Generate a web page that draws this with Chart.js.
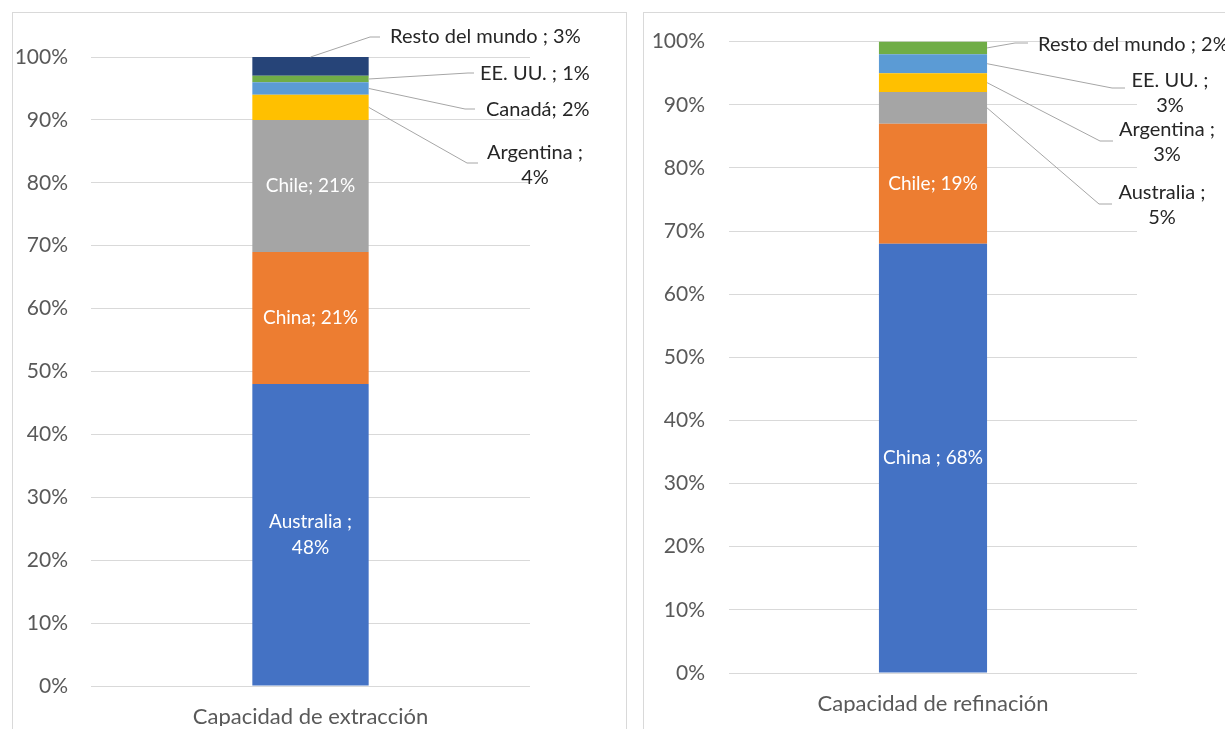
<!DOCTYPE html>
<html>
<head>
<meta charset="utf-8">
<script src="https://cdn.jsdelivr.net/npm/chart.js@4"></script>
<style>
  body { margin: 0; background: #fff; overflow: hidden; }
  .panel { position: absolute; border: 1px solid #d9d9d9; background: #fff; overflow: hidden; }
  #panelIzq { left: 12px; top: 12px; width: 613px; height: 740px; }
  #panelDer { left: 643px; top: 12px; width: 618px; height: 740px; }
  #chartRefinacion { margin-top: -8px; display: block; }
</style>
</head>
<body>
<div class="panel" id="panelIzq"><canvas id="chartExtraccion" width="613" height="740"></canvas></div>
<div class="panel" id="panelDer"><canvas id="chartRefinacion" width="618" height="740"></canvas></div>
<script>
//DATOS
const colores = ["#4472C4", "#ED7D31", "#A5A5A5", "#FFC000", "#5B9BD5", "#70AD47", "#264478"];
const yTicks = [0, 10, 20, 30, 40, 50, 60, 70, 80, 90, 100];

const extraccionCategoria = ["Capacidad de extracción"];
const extraccionPaises = ["Australia", "China", "Chile", "Argentina", "Canadá", "EE. UU.", "Resto del mundo"];
const extraccionValores = [48, 21, 21, 4, 2, 1, 3];
const extraccionEtiquetas = [["Australia ;", "48%"], ["China; 21%"], ["Chile; 21%"], ["Argentina ;", "4%"], ["Canadá; 2%"], ["EE. UU. ; 1%"], ["Resto del mundo ; 3%"]];

const refinacionCategoria = ["Capacidad de refinación"];
const refinacionPaises = ["China", "Chile", "Australia", "Argentina", "EE. UU.", "Resto del mundo"];
const refinacionValores = [68, 19, 5, 3, 3, 2];
const refinacionEtiquetas = [["China ; 68%"], ["Chile; 19%"], ["Australia ;", "5%"], ["Argentina ;", "3%"], ["EE. UU. ;", "3%"], ["Resto del mundo ; 2%"]];

const FUENTE = "Lato, 'Open Sans', sans-serif";

//PLUGIN DE ETIQUETAS
const etiquetasPlugin = {
  id: "etiquetas",
  afterDatasetsDraw(chart, args, opts) {
    const ctx = chart.ctx;
    ctx.save();
    chart.data.datasets.forEach((ds, i) => {
      const el = chart.getDatasetMeta(i).data[0];
      const lineas = ds.etiqueta;
      const cfg = (opts.fuera || {})[i];
      if (!cfg) {
        // dentro de la barra
        ctx.fillStyle = "#ffffff";
        ctx.font = "19px " + FUENTE;
        ctx.textAlign = "center";
        ctx.textBaseline = "middle";
        const cy = (el.y + el.base) / 2;
        const lh = 26;
        lineas.forEach((t, k) => {
          ctx.fillText(t, el.x, cy + (k - (lineas.length - 1) / 2) * lh);
        });
        return;
      }
      let ax, ay;
      if (cfg.anchor === "top") { ax = el.x; ay = el.y; }
      else { ax = el.x + el.width / 2; ay = (el.y + el.base) / 2; }
      ctx.strokeStyle = "#a6a6a6";
      ctx.lineWidth = 1;
      ctx.beginPath();
      ctx.moveTo(ax, ay);
      ctx.lineTo(cfg.codo[0], cfg.codo[1]);
      ctx.lineTo(cfg.codo[0] + cfg.largo, cfg.codo[1]);
      ctx.stroke();
      ctx.fillStyle = "#262626";
      ctx.font = "20px " + FUENTE;
      ctx.textAlign = cfg.align;
      ctx.textBaseline = "middle";
      lineas.forEach((t, k) => {
        ctx.fillText(t, cfg.tx, cfg.ty + k * 25);
      });
    });
    ctx.restore();
  }
};

function crearGrafico(id, categoria, paises, valores, etiquetas, medidas, fuera) {
  const datasets = paises.map((p, i) => ({
    label: p,
    data: [valores[i]],
    etiqueta: etiquetas[i],
    backgroundColor: colores[i],
    borderWidth: 0,
    categoryPercentage: 1,
    barPercentage: 0.265,
  }));
  const config = {
    type: "bar",
    data: { labels: categoria, datasets: datasets },
    plugins: [etiquetasPlugin],
    options: {
      responsive: false,
      animation: false,
      devicePixelRatio: 1,
      layout: { padding: medidas.padding },
      plugins: {
        legend: { display: false },
        tooltip: { enabled: false },
        title: { display: false },
        etiquetas: { fuera: fuera },
      },
      scales: {
        x: {
          stacked: true,
          grid: { display: false },
          border: { display: false },
          ticks: { color: "#595959", font: { family: FUENTE, size: 22 }, padding: 10 },
          afterFit: (s) => { s.height = 40; },
        },
        y: {
          stacked: true,
          min: 0,
          max: 100,
          afterBuildTicks: (s) => { s.ticks = yTicks.map((v) => ({ value: v })); },
          grid: { color: "#d9d9d9", lineWidth: 1, drawTicks: false },
          border: { display: false },
          ticks: {
            color: "#595959",
            font: { family: FUENTE, size: 21 },
            padding: medidas.tickPad,
            callback: (v) => v + "%",
          },
          afterFit: (s) => { s.width = medidas.ejeY; },
        },
      },
    },
  };
  return new Chart(document.getElementById(id), config);
}

crearGrafico("chartExtraccion", extraccionCategoria, extraccionPaises, extraccionValores, extraccionEtiquetas,
  { padding: { left: 0, right: 96, top: 44, bottom: 27 }, ejeY: 78, tickPad: 23 },
  {
    3: { codo: [454, 150], largo: 11, tx: 522, ty: 140, align: "center" },
    4: { codo: [452, 96], largo: 10, tx: 473, ty: 97, align: "left" },
    5: { codo: [455, 60], largo: 6, tx: 467, ty: 61, align: "left" },
    6: { anchor: "top", codo: [357, 24], largo: 10, tx: 377, ty: 24, align: "left" },
  });

// el lienzo derecho sube 8px: las coordenadas de las etiquetas van en px del lienzo
crearGrafico("chartRefinacion", refinacionCategoria, refinacionPaises, refinacionValores, refinacionEtiquetas,
  { padding: { left: 0, right: 125, top: 36, bottom: 32 }, ejeY: 85, tickPad: 24 },
  {
    2: { codo: [455, 199], largo: 13, tx: 518, ty: 188, align: "center" },
    3: { codo: [456, 136], largo: 13, tx: 523, ty: 125, align: "center" },
    4: { codo: [468, 83], largo: 13, tx: 526, ty: 76, align: "center" },
    5: { codo: [371, 38], largo: 13, tx: 394, ty: 40, align: "left" },
  });
</script>
</body>
</html>
